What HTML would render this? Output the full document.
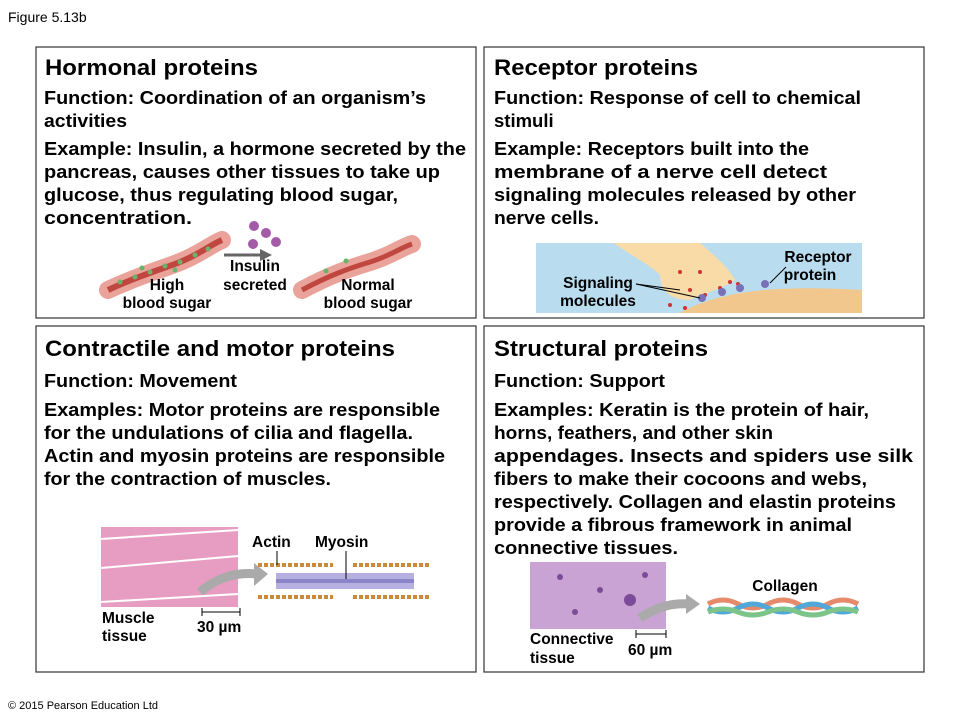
<!DOCTYPE html>
<html><head><meta charset="utf-8"><style>
html,body{margin:0;padding:0;background:#fff}
svg{display:block}
text{font-family:"Liberation Sans",Arial,sans-serif;fill:#000}
.t{font-size:22.5px;font-weight:bold}
.b{font-size:18.5px;font-weight:bold}
.s{font-size:15.5px;font-weight:bold}
</style></head><body>
<svg width="960" height="720" viewBox="0 0 960 720" xmlns="http://www.w3.org/2000/svg">
<text x="8" y="22" style="font-size:14px">Figure 5.13b</text>
<text x="8" y="709" style="font-size:11px">© 2015 Pearson Education Ltd</text>
<g fill="none" stroke="#333" stroke-width="1.2">
<rect x="36" y="47" width="440" height="271"/>
<rect x="484" y="47" width="440" height="271"/>
<rect x="36" y="326" width="440" height="346"/>
<rect x="484" y="326" width="440" height="346"/>
</g>
<!-- Hormonal -->
<text class="t" x="45" y="75" textLength="213" lengthAdjust="spacingAndGlyphs">Hormonal proteins</text>
<text class="b" x="44" y="104" textLength="382" lengthAdjust="spacingAndGlyphs">Function: Coordination of an organism’s</text>
<text class="b" x="44" y="127" textLength="83" lengthAdjust="spacingAndGlyphs">activities</text>
<text class="b" x="44" y="155" textLength="422" lengthAdjust="spacingAndGlyphs">Example: Insulin, a hormone secreted by the</text>
<text class="b" x="44" y="178" textLength="396" lengthAdjust="spacingAndGlyphs">pancreas, causes other tissues to take up</text>
<text class="b" x="44" y="201" textLength="354" lengthAdjust="spacingAndGlyphs">glucose, thus regulating blood sugar,</text>
<text class="b" x="44" y="224" textLength="148" lengthAdjust="spacingAndGlyphs">concentration.</text>
<path d="M108 290 C140 275,160 270,180 262 S210 245,222 240" stroke="#eaa39a" stroke-width="18" fill="none" stroke-linecap="round"/>
<path d="M108 290 C140 275,160 270,180 262 S210 245,222 240" stroke="#c0473f" stroke-width="6" fill="none"/>
<g fill="#6ab36a"><circle cx="120" cy="282" r="2.5"/><circle cx="135" cy="277" r="2.5"/><circle cx="150" cy="272" r="2.5"/><circle cx="165" cy="266" r="2.5"/><circle cx="180" cy="262" r="2.5"/><circle cx="195" cy="255" r="2.5"/><circle cx="208" cy="249" r="2.5"/><circle cx="142" cy="268" r="2.5"/><circle cx="175" cy="270" r="2.5"/></g>
<path d="M302 290 C330 275,350 268,370 262 S400 248,412 244" stroke="#eaa39a" stroke-width="18" fill="none" stroke-linecap="round"/>
<path d="M302 290 C330 275,350 268,370 262 S400 248,412 244" stroke="#c0473f" stroke-width="5" fill="none"/>
<g fill="#6ab36a"><circle cx="326" cy="271" r="2.5"/><circle cx="346" cy="261" r="2.5"/></g>
<line x1="224" y1="255" x2="262" y2="255" stroke="#666" stroke-width="3"/>
<polygon points="260,249 272,255 260,261" fill="#666"/>
<g fill="#a35aa8"><circle cx="254" cy="226" r="5"/><circle cx="266" cy="233" r="5"/><circle cx="253" cy="244" r="5"/><circle cx="276" cy="242" r="5"/></g>
<text class="s" x="167" y="290" text-anchor="middle">High</text>
<text class="s" x="167" y="308" text-anchor="middle">blood sugar</text>
<text class="s" x="255" y="271" text-anchor="middle">Insulin</text>
<text class="s" x="255" y="290" text-anchor="middle">secreted</text>
<text class="s" x="368" y="290" text-anchor="middle">Normal</text>
<text class="s" x="368" y="308" text-anchor="middle">blood sugar</text>
<!-- Receptor -->
<text class="t" x="494" y="75" textLength="204" lengthAdjust="spacingAndGlyphs">Receptor proteins</text>
<text class="b" x="494" y="104" textLength="367" lengthAdjust="spacingAndGlyphs">Function: Response of cell to chemical</text>
<text class="b" x="494" y="127">stimuli</text>
<text class="b" x="494" y="155" textLength="315" lengthAdjust="spacingAndGlyphs">Example: Receptors built into the</text>
<text class="b" x="494" y="178" textLength="333" lengthAdjust="spacingAndGlyphs">membrane of a nerve cell detect</text>
<text class="b" x="494" y="201" textLength="362" lengthAdjust="spacingAndGlyphs">signaling molecules released by other</text>
<text class="b" x="494" y="224" textLength="105" lengthAdjust="spacingAndGlyphs">nerve cells.</text>
<rect x="536" y="243" width="326" height="70" fill="#b9dcef"/>
<path d="M680 313 C720 290,780 285,862 290 L862 313 Z" fill="#f2c78d"/>
<path d="M614 243 L700 243 C720 260,730 270,735 280 C720 290,700 295,690 300 C670 300,660 290,660 275 C650 265,630 255,614 243 Z" fill="#f8dba7"/>
<g fill="#c33"><circle cx="680" cy="272" r="2"/><circle cx="700" cy="272" r="2"/><circle cx="690" cy="290" r="2"/><circle cx="705" cy="295" r="2"/><circle cx="720" cy="288" r="2"/><circle cx="670" cy="305" r="2"/><circle cx="685" cy="308" r="2"/><circle cx="730" cy="282" r="2"/><circle cx="738" cy="284" r="2"/></g>
<g fill="#7a70b8"><circle cx="702" cy="298" r="4"/><circle cx="722" cy="292" r="4"/><circle cx="740" cy="288" r="4"/><circle cx="765" cy="284" r="4"/></g>
<line x1="636" y1="284" x2="700" y2="298" stroke="#000"/>
<line x1="636" y1="284" x2="680" y2="290" stroke="#000"/>
<line x1="770" y1="283" x2="786" y2="267" stroke="#000"/>
<text class="s" x="598" y="288" text-anchor="middle">Signaling</text>
<text class="s" x="598" y="306" text-anchor="middle">molecules</text>
<text class="s" x="818" y="262" text-anchor="middle">Receptor</text>
<text class="s" x="810" y="280" text-anchor="middle">protein</text>
<!-- Contractile -->
<text class="t" x="45" y="356" textLength="350" lengthAdjust="spacingAndGlyphs">Contractile and motor proteins</text>
<text class="b" x="44" y="387" textLength="193" lengthAdjust="spacingAndGlyphs">Function: Movement</text>
<text class="b" x="44" y="416" textLength="396" lengthAdjust="spacingAndGlyphs">Examples: Motor proteins are responsible</text>
<text class="b" x="44" y="439" textLength="369" lengthAdjust="spacingAndGlyphs">for the undulations of cilia and flagella.</text>
<text class="b" x="44" y="462" textLength="401" lengthAdjust="spacingAndGlyphs">Actin and myosin proteins are responsible</text>
<text class="b" x="44" y="485" textLength="287" lengthAdjust="spacingAndGlyphs">for the contraction of muscles.</text>
<rect x="101" y="527" width="137" height="80" fill="#e79dc2"/>
<g stroke="#fff" stroke-width="2"><line x1="101" y1="539" x2="238" y2="530"/><line x1="101" y1="568" x2="238" y2="556"/><line x1="101" y1="602" x2="238" y2="594"/></g>
<path d="M200 592 C220 575,240 572,258 574" stroke="#aaa" stroke-width="9" fill="none"/>
<polygon points="254,563 268,574 254,586" fill="#aaa"/>
<g stroke="#c98a3a" stroke-width="4" stroke-dasharray="4 2"><line x1="258" y1="565" x2="333" y2="565"/><line x1="353" y1="565" x2="430" y2="565"/><line x1="258" y1="597" x2="333" y2="597"/><line x1="353" y1="597" x2="430" y2="597"/></g>
<rect x="276" y="573" width="138" height="16" fill="#a9a2dc" opacity="0.85"/>
<line x1="276" y1="581" x2="414" y2="581" stroke="#8c84c9" stroke-width="4"/>
<line x1="277" y1="551" x2="277" y2="565" stroke="#000"/>
<line x1="346" y1="551" x2="346" y2="579" stroke="#000"/>
<text class="s" x="252" y="547">Actin</text>
<text class="s" x="315" y="547">Myosin</text>
<line x1="202" y1="612" x2="240" y2="612" stroke="#000"/>
<line x1="202" y1="608" x2="202" y2="616" stroke="#000"/><line x1="240" y1="608" x2="240" y2="616" stroke="#000"/>
<text class="s" x="102" y="623">Muscle</text>
<text class="s" x="102" y="641">tissue</text>
<text class="s" x="197" y="632">30 µm</text>
<!-- Structural -->
<text class="t" x="494" y="356" textLength="214" lengthAdjust="spacingAndGlyphs">Structural proteins</text>
<text class="b" x="494" y="387" textLength="171" lengthAdjust="spacingAndGlyphs">Function: Support</text>
<text class="b" x="494" y="416" textLength="375" lengthAdjust="spacingAndGlyphs">Examples: Keratin is the protein of hair,</text>
<text class="b" x="494" y="439" textLength="279" lengthAdjust="spacingAndGlyphs">horns, feathers, and other skin</text>
<text class="b" x="494" y="462" textLength="419" lengthAdjust="spacingAndGlyphs">appendages. Insects and spiders use silk</text>
<text class="b" x="494" y="485" textLength="373" lengthAdjust="spacingAndGlyphs">fibers to make their cocoons and webs,</text>
<text class="b" x="494" y="508" textLength="402" lengthAdjust="spacingAndGlyphs">respectively. Collagen and elastin proteins</text>
<text class="b" x="494" y="531" textLength="358" lengthAdjust="spacingAndGlyphs">provide a fibrous framework in animal</text>
<text class="b" x="494" y="554" textLength="184" lengthAdjust="spacingAndGlyphs">connective tissues.</text>
<rect x="530" y="562" width="136" height="67" fill="#c9a3d4"/>
<g fill="#7b4a98"><circle cx="560" cy="577" r="3"/><circle cx="600" cy="590" r="3"/><circle cx="630" cy="600" r="6"/><circle cx="575" cy="612" r="3"/><circle cx="645" cy="575" r="3"/></g>
<path d="M640 618 C660 605,675 603,690 604" stroke="#aaa" stroke-width="9" fill="none"/>
<polygon points="686,594 700,604 686,614" fill="#aaa"/>
<g fill="none" stroke-width="5"><path d="M708 604 q15 -8 30 0 t30 0 t30 0 t30 0 t30 0" stroke="#e58a6a"/><path d="M708 608 q15 8 30 0 t30 0 t30 0 t30 0 t30 0" stroke="#4fa8d8"/><path d="M708 612 q15 -6 30 0 t30 0 t30 0 t30 0 t30 0" stroke="#7cc48a"/></g>
<text class="s" x="785" y="591" text-anchor="middle">Collagen</text>
<line x1="636" y1="634" x2="666" y2="634" stroke="#000"/>
<line x1="636" y1="630" x2="636" y2="638" stroke="#000"/><line x1="666" y1="630" x2="666" y2="638" stroke="#000"/>
<text class="s" x="530" y="644">Connective</text>
<text class="s" x="530" y="663">tissue</text>
<text class="s" x="628" y="655">60 µm</text>
</svg>
</body></html>
